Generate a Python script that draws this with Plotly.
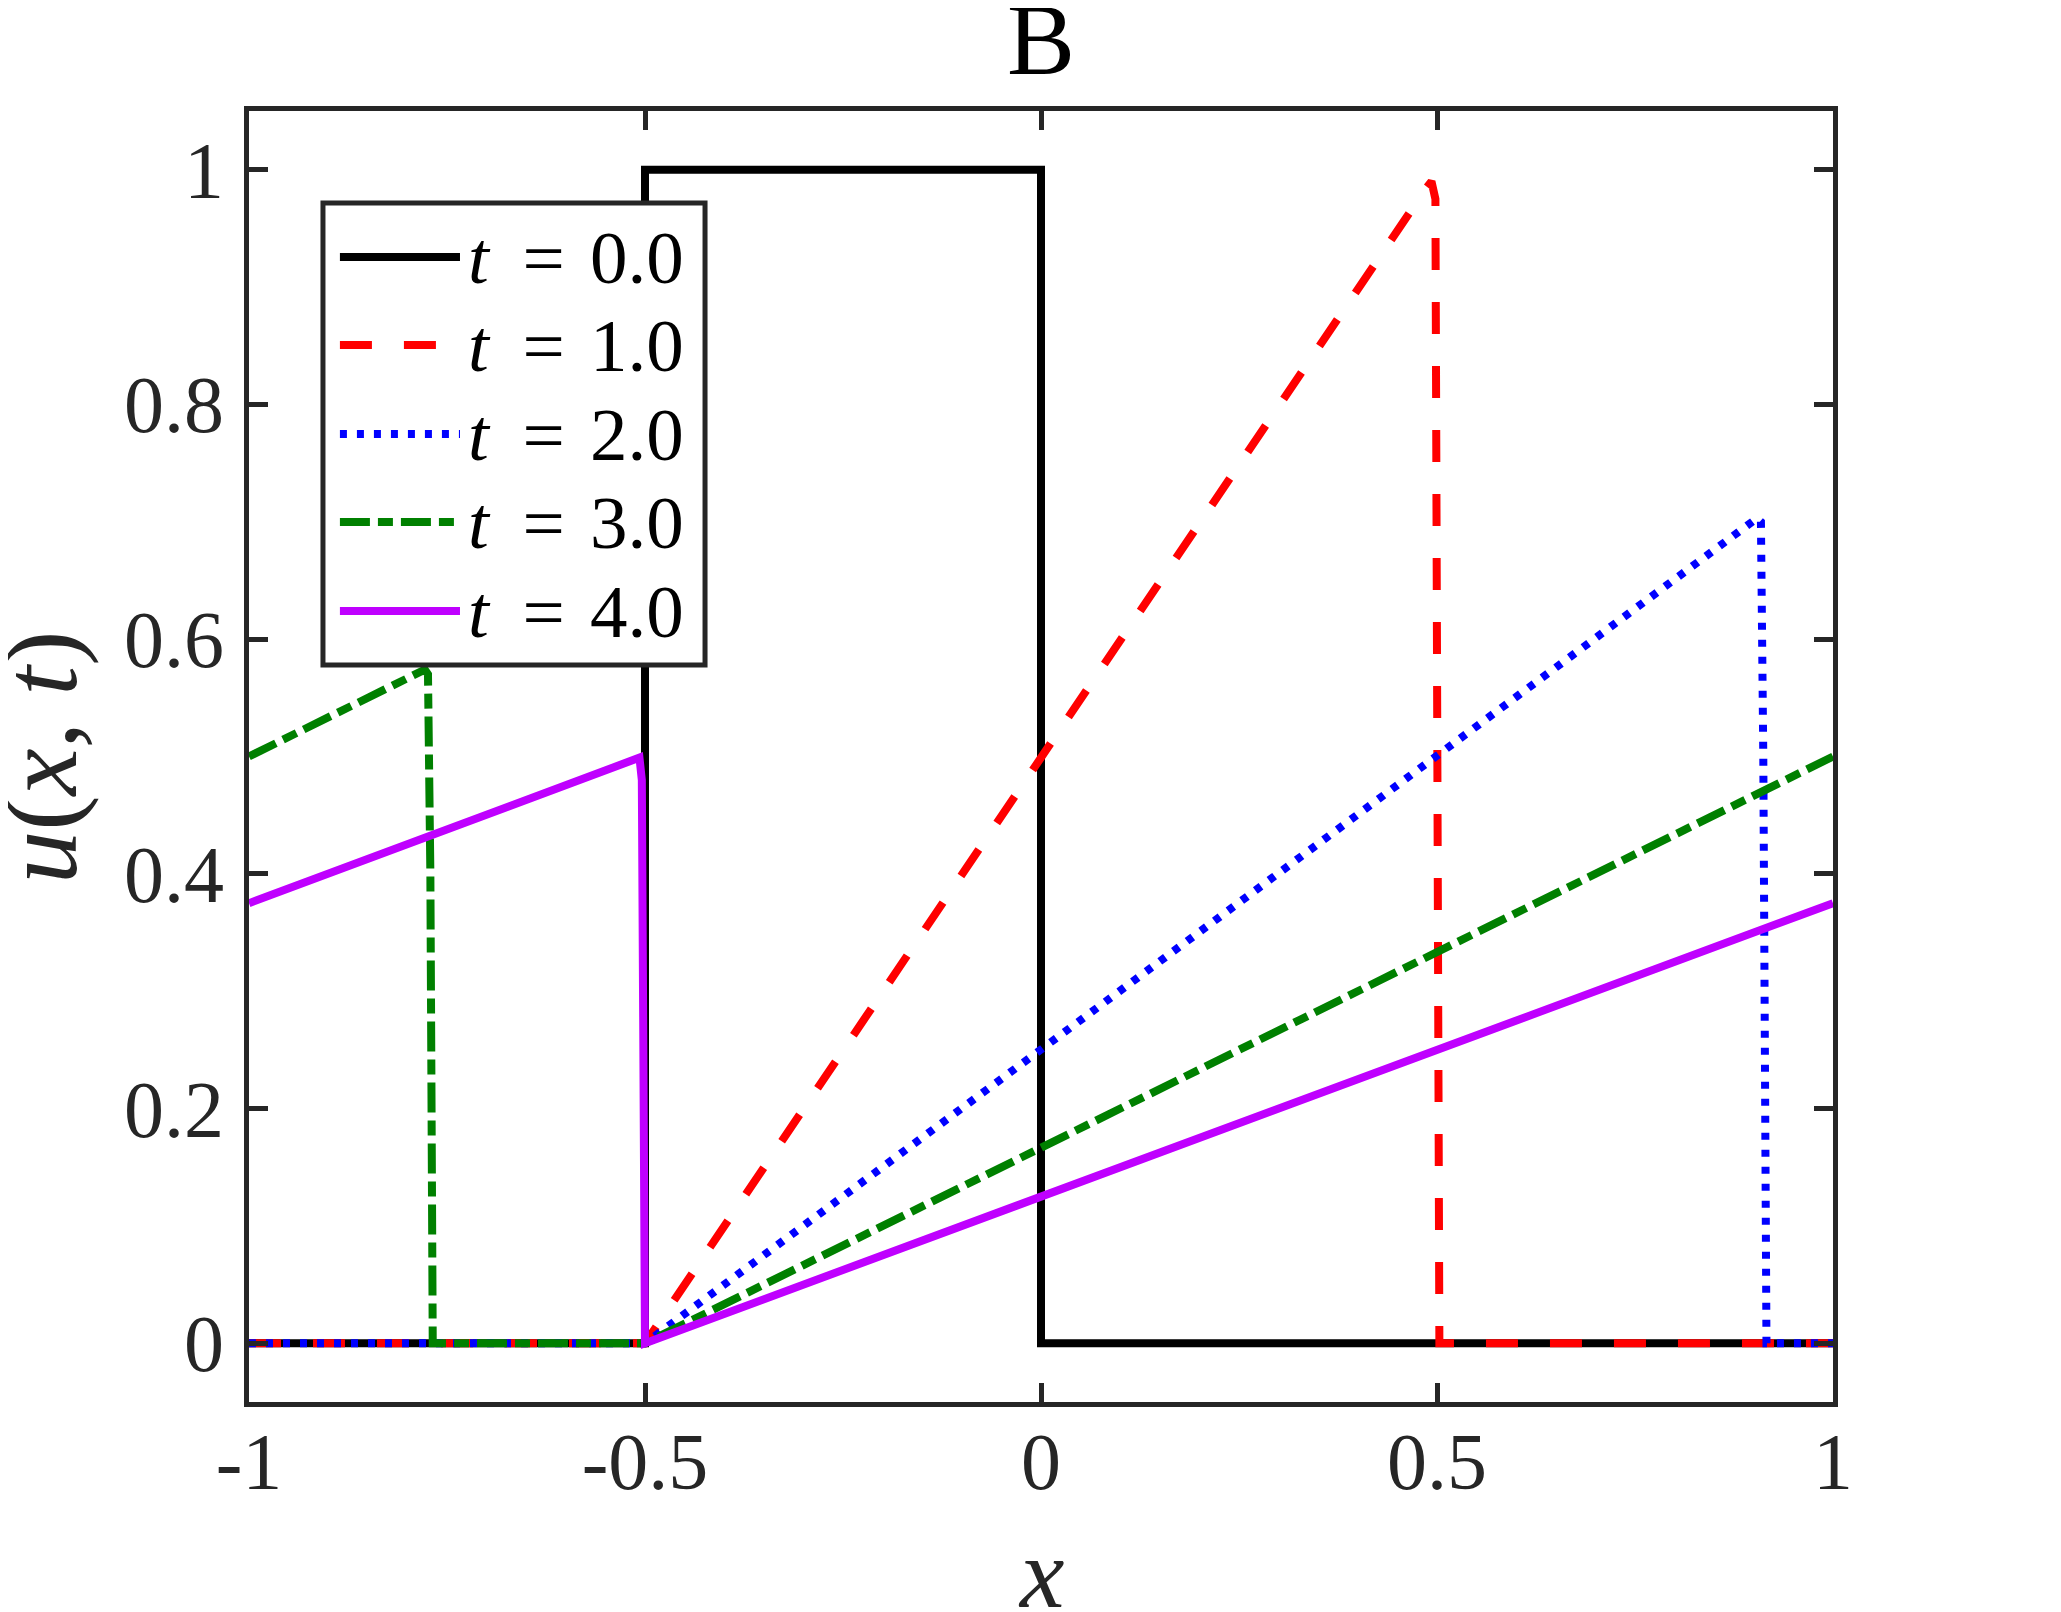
import plotly.graph_objects as go

# ---- data ----
labels = ["t = 0.0", "t = 1.0", "t = 2.0", "t = 3.0", "t = 4.0"]
colors = ["#000000", "#ff0000", "#0000ff", "#008000", "#bf00ff"]
dashes = ["solid", "32px,32px", "7px,10px", "30px,8px,15px,8px", "solid"]

x_t0 = [-1.0, -0.5, -0.5, 0.0, 0.0, 1.0]
u_t0 = [0.0, 0.0, 1.0, 1.0, 0.0, 0.0]

x_t1 = [-1.0, -0.5, 0.485, 0.493, 0.498, 0.500, 0.503, 1.0]
u_t1 = [0.0, 0.0, 0.983, 0.990, 0.975, 0.50, 0.0, 0.0]

x_t2 = [-1.0, -0.5, 0.904, 0.909, 0.912, 0.916, 1.0]
u_t2 = [0.0, 0.0, 0.703, 0.700, 0.50, 0.0, 0.0]

x_t3 = [-1.0, -0.778, -0.774, -0.771, -0.768, -0.5, 1.0]
u_t3 = [0.5, 0.574, 0.570, 0.40, 0.0, 0.0, 0.5]

x_t4 = [-1.0, -0.507, -0.504, -0.502, -0.5, 1.0]
u_t4 = [0.375, 0.499, 0.48, 0.02, 0.0, 0.375]

xs = [x_t0, x_t1, x_t2, x_t3, x_t4]
us = [u_t0, u_t1, u_t2, u_t3, u_t4]

x_ticks = [-1, -0.5, 0, 0.5, 1]
x_tick_labels = ["-1", "-0.5", "0", "0.5", "1"]
y_ticks = [0, 0.2, 0.4, 0.6, 0.8, 1]
y_tick_labels = ["0", "0.2", "0.4", "0.6", "0.8", "1"]

title_text = "B"
x_title = "<i>x</i>"
y_title = "<i>u</i>(<i>x</i>, <i>t</i>)"

FONT = "Liberation Serif"
AX = "#262626"
LW = 8

fig = go.Figure()
for x, u, c, d, lab in zip(xs, us, colors, dashes, labels):
    fig.add_trace(go.Scatter(x=x, y=u, mode="lines", name=lab,
                             line=dict(color=c, width=LW, dash=d),
                             showlegend=False))

# ---- custom legend (long line samples like the reference) ----
lx0, lx1, ly0, ly1 = 0.0467, 0.2879, 0.5709, 0.9287
row_y = [0.8869, 0.8187, 0.7498, 0.6816, 0.6127]
fig.add_shape(type="rect", xref="paper", yref="paper", x0=lx0, x1=lx1, y0=ly0, y1=ly1,
              fillcolor="white", line=dict(color=AX, width=5), layer="above")
for ry, c, d, lab in zip(row_y, colors, dashes, labels):
    fig.add_shape(type="line", xref="paper", yref="paper", x0=0.0574, x1=0.1332, y0=ry, y1=ry,
                  line=dict(color=c, width=LW, dash=d), layer="above")
    txt = "<i>t</i>\u2009 = \u200a" + lab.split("= ")[1]
    fig.add_annotation(xref="paper", yref="paper", x=0.2760, y=ry, xanchor="right",
                       yanchor="middle", text=txt, showarrow=False,
                       font=dict(family=FONT, size=75, color="black"))

# axis titles placed as annotations for precise positioning
fig.add_annotation(xref="paper", yref="paper", x=-0.1313, y=0.499, xanchor="center", yanchor="middle",
                   text=y_title, textangle=-90, showarrow=False,
                   font=dict(family=FONT, size=106, color=AX))
fig.add_annotation(xref="paper", yref="paper", x=0.5, y=-0.1332, xanchor="center", yanchor="middle",
                   text=x_title, showarrow=False,
                   font=dict(family=FONT, size=100, color=AX))

axis_common = dict(showline=True, linewidth=5, linecolor=AX, mirror="ticks",
                   ticks="inside", ticklen=19, tickwidth=5, tickcolor=AX,
                   showgrid=False, zeroline=False, automargin=False,
                   tickfont=dict(family=FONT, size=80, color=AX))

fig.update_xaxes(range=[-1, 1], tickvals=x_ticks, ticktext=x_tick_labels,
                 ticklabelstandoff=-14, **axis_common)
fig.update_yaxes(range=[-0.05, 1.05], tickvals=y_ticks, ticktext=y_tick_labels,
                 ticklabelstandoff=4, **axis_common)

# page body adds an 8px offset; margins compensate for it
fig.update_layout(
    template="none",
    width=2061, height=1612,
    margin=dict(l=241, r=236, t=103, b=218, pad=0),
    paper_bgcolor="white", plot_bgcolor="white",
    title=dict(text=title_text, x=0.5, xref="paper", xanchor="center", y=1 - 30 / 1612,
               yanchor="middle", font=dict(family=FONT, size=102, color="black")),
    showlegend=False,
)

fig.write_html("out.html")
